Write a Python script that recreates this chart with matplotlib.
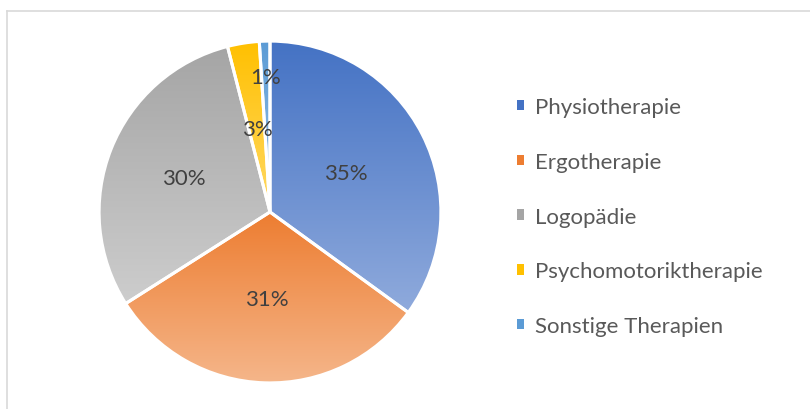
import numpy as np
import matplotlib.pyplot as plt
from matplotlib.colors import LinearSegmentedColormap
from matplotlib.patches import Patch
from matplotlib.lines import Line2D

plt.rcParams['font.family'] = ['Lato', 'DejaVu Sans']

# data
labels = ['Physiotherapie', 'Ergotherapie', 'Logopädie',
          'Psychomotoriktherapie', 'Sonstige Therapien']
values = [35, 31, 30, 3, 1]
pct_text = ['35%', '31%', '30%', '3%', '1%']
# gradient colours (top, bottom) per slice
top_colors = ['#4472C4', '#ED7D31', '#A5A5A5', '#FFC000', '#5B9BD5']
bottom_colors = ['#8FAADC', '#F5B68A', '#CDCDCD', '#FFD966', '#9DC3E6']
label_dist = [0.5, 0.51, 0.54, 0.49, 0.79]

fig = plt.figure(figsize=(8.1, 4.1), dpi=100)
ax = fig.add_axes([82 / 810, 9 / 410, 376 / 810, 376 / 410])

wedges, _ = ax.pie(values, startangle=90, counterclock=False, radius=1,
                   wedgeprops=dict(edgecolor='white', linewidth=2.2))

grad = np.linspace(1, 0, 256).reshape(-1, 1)
for w, c1, c2 in zip(wedges, top_colors, bottom_colors):
    bb = w.get_path().get_extents()
    cmap = LinearSegmentedColormap.from_list('g', [c2, c1])
    im = ax.imshow(grad, extent=[bb.x0, bb.x1, bb.y0, bb.y1], cmap=cmap,
                   aspect='auto', zorder=2, origin='upper')
    im.set_clip_path(w)
    w.set_facecolor('none')
    w.set_zorder(3)

# percentage labels
for w, txt, d in zip(wedges, pct_text, label_dist):
    ang = np.deg2rad((w.theta1 + w.theta2) / 2)
    ax.text(d * np.cos(ang), d * np.sin(ang), txt, ha='center', va='center',
            fontsize=16, color='#404040', zorder=4)

ax.set_xlim(-1.1, 1.1)
ax.set_ylim(-1.1, 1.1)
ax.set_aspect('equal')
ax.axis('off')

handles = [Patch(facecolor=c, edgecolor='none') for c in top_colors]
fig.legend(handles, labels, loc='center left', bbox_to_anchor=(517 / 810, 0.4695),
           frameon=False, fontsize=16, labelcolor='#595959', labelspacing=1.57,
           handlelength=0.33, handleheight=0.33, handletextpad=0.5,
           borderpad=0, borderaxespad=0)

# chart area border (top and left visible)
fig.add_artist(Line2D([7 / 810, 7 / 810], [0, 398 / 410], color='#D9D9D9', lw=1.2))
fig.add_artist(Line2D([7 / 810, 1], [398 / 410, 398 / 410], color='#D9D9D9', lw=1.2))

fig.savefig('out.png', dpi=100)
